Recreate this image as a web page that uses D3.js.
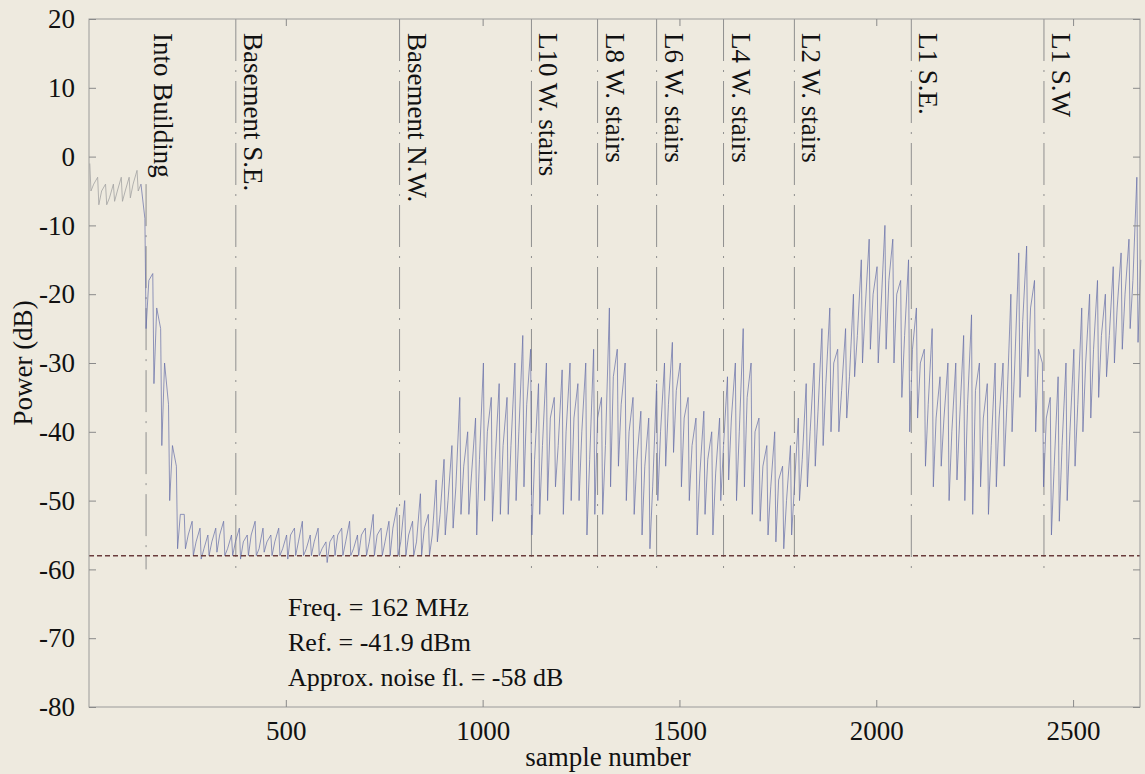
<!DOCTYPE html>
<html>
<head>
<meta charset="utf-8">
<script src="https://cdn.jsdelivr.net/npm/d3@7"></script>
<style>
  html, body { margin: 0; padding: 0; background: #eeeadf; }
  svg { display: block; }
</style>
</head>
<body>
<svg id="chart" width="1145" height="774"></svg>
<script>
// ---- data ----
const binSize = 20; // samples per bin
const hiVals = [
  -1, -3, -4, -4, -3, -3, -2,
  -9, -17, -25, -36, -45,
  -52, -53, -54, -55, -54, -53, -55, -54, -55, -53, -54, -55, -54, -55, -54, -53,
  -55, -54, -56, -55, -54, -53, -55, -54, -52, -54, -53, -51,
  -50, -53, -49, -52,
  -47, -44, -42, -35,
  -40, -38, -30, -35, -33,
  -35, -30, -26, -28,
  -33, -30, -35, -31, -30,
  -33, -30, -28, -35,
  -22, -28, -30,
  -35, -37, -38, -33,
  -30, -27, -30, -35,
  -38, -37, -40, -38,
  -32, -30, -25, -30,
  -38, -42, -40, -45, -42,
  -38, -33, -30, -25,
  -22, -28, -25, -20,
  -15, -12, -16, -10,
  -12, -18, -15, -22,
  -28, -25, -32, -30,
  -30, -26, -23, -30,
  -33, -30, -30, -20,
  -14, -13, -18, -30,
  -35, -32, -30, -28,
  -22, -20, -18, -20,
  -16, -14, -12, -3
];
const midVals = [
  -4, -5, -6, -5, -5, -4, -4,
  -18, -22, -30, -42, -52,
  -55, -56, -57, -56, -55, -57, -56, -56, -55, -57, -56, -56, -57, -55, -56, -57,
  -56, -57, -56, -55, -56, -57, -55, -56, -55, -56, -54, -56,
  -55, -56, -54, -55,
  -52, -50, -48, -45,
  -46, -44, -40, -44, -42,
  -42, -40, -36, -44,
  -42, -38, -42, -40, -38,
  -40, -44, -38, -42,
  -32, -36, -40,
  -44, -45, -48, -40,
  -36, -34, -38, -42,
  -46, -44, -46, -42,
  -38, -40, -35, -40,
  -45, -48, -47, -50, -48,
  -44, -40, -37, -33,
  -30, -34, -32, -26,
  -22, -20, -22, -18,
  -20, -26, -28, -30,
  -36, -38, -38, -40,
  -38, -36, -34, -38,
  -42, -38, -36, -30,
  -24, -22, -28, -38,
  -45, -42, -40, -36,
  -30, -28, -26, -26,
  -22, -20, -18, -15
];
const loVals = [
  -5, -7, -7, -6.5, -6.5, -6, -5,
  -25, -33, -42, -50, -57,
  -57, -58, -58.5, -58, -57.5, -58, -58, -58.5, -58, -58, -57.5, -58, -58, -58.5, -58, -58,
  -58, -58, -59, -58, -58, -58, -58, -58, -58, -58, -58, -58,
  -58, -58, -58, -58,
  -56, -55, -54, -52,
  -52, -55, -50, -53, -52,
  -52, -50, -48, -55,
  -52, -50, -48, -52, -50,
  -50, -55, -52, -52,
  -48, -45, -50,
  -52, -55, -57, -50,
  -45, -43, -48, -50,
  -55, -52, -55, -50,
  -47, -50, -48, -52,
  -53, -55, -56, -57, -55,
  -50, -48, -45, -42,
  -40, -40, -38, -32,
  -30, -28, -30, -28,
  -30, -35, -40, -38,
  -45, -48, -45, -50,
  -47, -50, -52, -48,
  -52, -48, -45, -40,
  -35, -32, -40, -48,
  -55, -53, -50, -45,
  -40, -38, -35, -32,
  -30, -28, -25, -27
];
const outdoorBins = 7; // first bins recorded outside (lighter trace)

const markerNames = ["Into Building", "Basement S.E.", "Basement N.W.", "L10 W. stairs",
  "L8 W. stairs", "L6 W. stairs", "L4 W. stairs", "L2 W. stairs", "L1 S.E.", "L1 S.W"];
const markerSamples = [145, 373, 789, 1124, 1292, 1442, 1612, 1792, 2089, 2426];
const markerTop = [-4, 20, 20, 20, 20, 20, 20, 20, 20, 20];

const xTicks = [500, 1000, 1500, 2000, 2500];
const yTicks = [-80, -70, -60, -50, -40, -30, -20, -10, 0, 10, 20];
const noiseFloor = -58;
const infoLines = ["Freq. = 162 MHz", "Ref. = -41.9 dBm", "Approx. noise fl. = -58 dB"];

// ---- layout ----
const L = 89, R = 1140, T = 19, B = 707;
const FONT = "'Liberation Serif', 'Times New Roman', serif";
const svg = d3.select("#chart");
svg.append("rect").attr("width", 1145).attr("height", 774).attr("fill", "#eeeadf");

const x = d3.scaleLinear().domain([0, 2670]).range([L, R]);
const y = d3.scaleLinear().domain([-80, 20]).range([B, T]);

const g = svg.append("g");

// marker lines
g.selectAll("line.marker").data(markerSamples).join("line")
  .attr("class", "marker")
  .attr("x1", d => x(d)).attr("x2", d => x(d))
  .attr("y1", (d, i) => y(markerTop[i])).attr("y2", y(-60))
  .attr("stroke", "#8f8f8f").attr("stroke-width", 1)
  .attr("stroke-dasharray", "42,9,2,9");

// data trace: hi / lo / mid per bin
const n = Math.min(hiVals.length, midVals.length, loVals.length);
const pts = [];
for (let i = 0; i < n; i++) {
  const s = i * binSize;
  pts.push({s: s + 2, v: hiVals[i], i});
  pts.push({s: s + 5, v: loVals[i], i});
  pts.push({s: s + 12, v: midVals[i], i});
}
const line = d3.line().x(d => x(d.s)).y(d => y(d.v));
g.append("path").datum(pts.filter(p => p.i < outdoorBins))
  .attr("d", line).attr("fill", "none")
  .attr("stroke", "#a2a2a2").attr("stroke-width", 0.8);
g.append("path").datum(pts.filter(p => p.i >= outdoorBins - 1 && !(p.i === outdoorBins - 1 && p.s % binSize < 10)))
  .attr("d", line).attr("fill", "none")
  .attr("stroke", "#6770a8").attr("stroke-width", 0.8).attr("stroke-opacity", 0.9);

// noise floor
g.append("line")
  .attr("x1", L).attr("x2", R).attr("y1", y(noiseFloor)).attr("y2", y(noiseFloor))
  .attr("stroke", "#6a3d3d").attr("stroke-width", 1.5).attr("stroke-dasharray", "5,3");

// frame
g.append("rect").attr("x", L).attr("y", T).attr("width", R - L).attr("height", B - T)
  .attr("fill", "none").attr("stroke", "#9a9a9a").attr("stroke-width", 1);

// axes with inward ticks
const fmt = d => String(d);
const xAxisB = d3.axisBottom(x).tickValues(xTicks).tickSize(-7).tickPadding(14).tickFormat(fmt);
const xAxisT = d3.axisTop(x).tickValues(xTicks).tickSize(-7).tickFormat("");
const yAxisL = d3.axisLeft(y).tickValues(yTicks).tickSize(-7).tickPadding(14).tickFormat(fmt);
const yAxisR = d3.axisRight(y).tickValues(yTicks).tickSize(-7).tickFormat("");

function styleAxis(sel) {
  sel.select(".domain").remove();
  sel.selectAll(".tick line").attr("stroke", "#8a8a8a");
  sel.selectAll(".tick text").attr("fill", "#111").style("font-family", FONT).style("font-size", "27px");
}
svg.append("g").attr("transform", `translate(0,${B})`).call(xAxisB).call(styleAxis);
svg.append("g").attr("transform", `translate(0,${T})`).call(xAxisT).call(styleAxis);
svg.append("g").attr("transform", `translate(${L},0)`).call(yAxisL).call(styleAxis);
svg.append("g").attr("transform", `translate(${R},0)`).call(yAxisR).call(styleAxis);

// marker labels (rotated)
svg.selectAll("text.mlabel").data(markerNames).join("text")
  .attr("class", "mlabel")
  .attr("transform", (d, i) => `translate(${x(markerSamples[i]) + 8},33) rotate(90)`)
  .attr("text-anchor", "start")
  .style("font-family", FONT).style("font-size", "27px").attr("fill", "#111")
  .text(d => d);

// axis titles
svg.append("text").attr("x", 608).attr("y", 766).attr("text-anchor", "middle")
  .style("font-family", FONT).style("font-size", "27px").attr("fill", "#111")
  .text("sample number");
svg.append("text").attr("transform", "translate(32,363) rotate(-90)").attr("text-anchor", "middle")
  .style("font-family", FONT).style("font-size", "27px").attr("fill", "#111")
  .text("Power (dB)");

// info text
svg.selectAll("text.info").data(infoLines).join("text")
  .attr("class", "info")
  .attr("x", 288).attr("y", (d, i) => 616 + i * 35)
  .style("font-family", FONT).style("font-size", "26px").attr("fill", "#111")
  .text(d => d);
</script>
</body>
</html>
